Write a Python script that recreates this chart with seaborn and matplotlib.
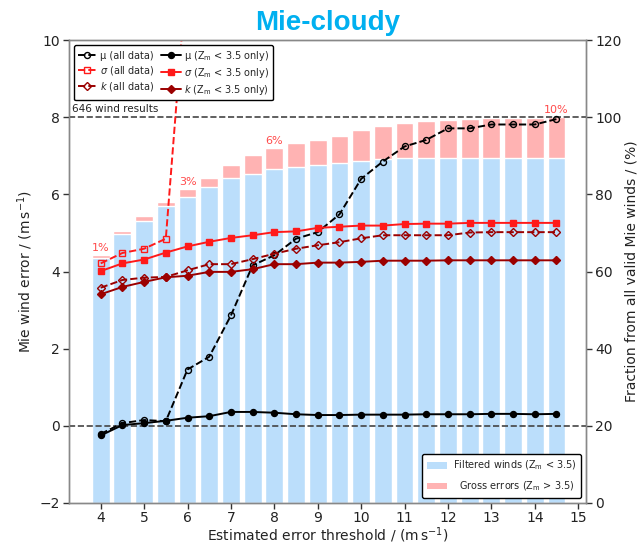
import numpy as np
import pandas as pd
import matplotlib
matplotlib.use("Agg")
import matplotlib.pyplot as plt
from matplotlib.patches import Patch
import seaborn as sns

# ---------------- data ----------------
thresholds = [4.0, 4.5, 5.0, 5.5, 6.0, 6.5, 7.0, 7.5, 8.0, 8.5, 9.0,
              9.5, 10.0, 10.5, 11.0, 11.5, 12.0, 12.5, 13.0, 13.5, 14.0, 14.5]

# fraction of all valid Mie winds (%)
frac_filtered = [63.5, 69.7, 73.2, 77.1, 79.2, 81.9, 84.3, 85.3, 86.6, 87.0, 87.6,
                 88.0, 88.6, 89.2, 89.3, 89.4, 89.5, 89.5, 89.5, 89.5, 89.5, 89.5]
frac_gross = [0.7, 0.9, 1.2, 1.0, 2.2, 2.3, 3.3, 4.9, 5.4, 6.2, 6.6,
              7.2, 8.1, 8.6, 9.3, 9.5, 9.7, 10.0, 10.2, 10.3, 10.4, 10.5]

# Mie wind error statistics (m/s)
mu_all = [-0.21, 0.07, 0.15, 0.12, 1.46, 1.79, 2.86, 4.16, 4.42, 4.85, 5.02,
          5.48, 6.40, 6.85, 7.24, 7.41, 7.71, 7.71, 7.81, 7.81, 7.81, 7.95]
mu_only = [-0.25, 0.02, 0.07, 0.13, 0.21, 0.25, 0.36, 0.36, 0.34, 0.30, 0.28,
           0.28, 0.29, 0.29, 0.29, 0.30, 0.30, 0.30, 0.31, 0.31, 0.30, 0.31]
sigma_all = [4.21, 4.48, 4.59, 4.85, 12.0] + [np.nan] * 17
sigma_only = [4.01, 4.21, 4.31, 4.49, 4.65, 4.77, 4.87, 4.94, 5.02, 5.04, 5.13,
              5.16, 5.19, 5.19, 5.23, 5.24, 5.24, 5.26, 5.26, 5.26, 5.26, 5.26]
k_all = [3.58, 3.78, 3.84, 3.86, 4.03, 4.19, 4.19, 4.32, 4.46, 4.59, 4.68,
         4.76, 4.86, 4.94, 4.94, 4.94, 4.94, 5.01, 5.02, 5.02, 5.02, 5.02]
k_only = [3.41, 3.60, 3.73, 3.85, 3.89, 3.99, 3.99, 4.06, 4.19, 4.19, 4.23,
          4.23, 4.25, 4.28, 4.28, 4.28, 4.29, 4.29, 4.29, 4.29, 4.29, 4.29]

pct_x = [4.0, 6.0, 8.0, 14.5]
pct_text = ["1%", "3%", "6%", "10%"]
n_results_text = "646 wind results"

BLUE = "#bbdefb"
PINK = "#ffb3b3"
RED = "#ff1a1a"
DARKRED = "#9b0000"
SPINE = "#888888"

sns.set_theme(style="ticks")
plt.rcParams["font.family"] = ["DejaVu Sans"]
plt.rcParams["axes.edgecolor"] = SPINE
plt.rcParams["xtick.color"] = "#333333"
plt.rcParams["ytick.color"] = "#333333"
plt.rcParams["xtick.labelcolor"] = "#222222"
plt.rcParams["ytick.labelcolor"] = "#222222"

fig = plt.figure(figsize=(6.39, 5.47), dpi=100)
ax = fig.add_axes([69 / 639, 1 - 503 / 547, (586 - 69) / 639, (503 - 40) / 547])
ax2 = ax.twinx()

# ---------------- bars (right axis) ----------------
df = pd.DataFrame({"threshold": thresholds, "filtered": frac_filtered, "gross": frac_gross})
df["total"] = df["filtered"] + df["gross"]
sns.barplot(data=df, x="threshold", y="total", native_scale=True, color=PINK,
            saturation=1, width=0.82, edgecolor="white", linewidth=1.0,
            errorbar=None, ax=ax2)
sns.barplot(data=df, x="threshold", y="filtered", native_scale=True, color=BLUE,
            saturation=1, width=0.82, edgecolor="white", linewidth=1.0,
            errorbar=None, ax=ax2)
ax2.set_ylim(0, 120)
ax2.set_yticks(range(0, 121, 20))
ax2.set_ylabel("Fraction from all valid Mie winds / (%)", fontsize=10,
               color="#222222", labelpad=2)
ax2.tick_params(axis="y", labelsize=10, length=4, width=1, pad=2.5)

for xp, t in zip(pct_x, pct_text):
    top = float(df.loc[df["threshold"] == xp, "total"].iloc[0])
    ax2.text(xp, top + 0.6, t, color="#ff4a4a", fontsize=8, ha="center", va="bottom")

ax2.legend(handles=[Patch(facecolor=BLUE, edgecolor="none", label="Filtered winds (Z$_\\mathrm{m}$ < 3.5)"),
                    Patch(facecolor=PINK, edgecolor="none", label="  Gross errors (Z$_\\mathrm{m}$ > 3.5)")],
           loc="lower right", fontsize=7, frameon=True, framealpha=1, edgecolor="black",
           fancybox=True, handlelength=2.0, labelspacing=0.75, borderpad=0.5,
           handletextpad=0.6)

# ---------------- lines (left axis) ----------------
ax.set_zorder(ax2.get_zorder() + 1)
ax.patch.set_visible(False)

def draw(values, color, ls, marker, mfc, ms, label):
    d = pd.DataFrame({"x": thresholds, "y": values}).dropna()
    sns.lineplot(data=d, x="x", y="y", color=color, linestyle=ls, marker=marker,
                 markersize=ms, markerfacecolor=mfc, markeredgecolor=color,
                 markeredgewidth=1.0, linewidth=1.4, errorbar=None, ax=ax,
                 label=label, legend=False)
    return ax.lines[-1]

h_mu_all = draw(mu_all, "black", "--", "o", "none", 4.3, "μ (all data)")
h_sig_all = draw(sigma_all, RED, "--", "s", "none", 4.3, "$\\sigma$ (all data)")
h_k_all = draw(k_all, DARKRED, "--", "D", "none", 4.3, "$k$ (all data)")
h_mu_only = draw(mu_only, "black", "-", "o", "black", 4.3, "μ (Z$_\\mathrm{m}$ < 3.5 only)")
h_sig_only = draw(sigma_only, RED, "-", "s", RED, 4.3, "$\\sigma$ (Z$_\\mathrm{m}$ < 3.5 only)")
h_k_only = draw(k_only, DARKRED, "-", "D", DARKRED, 4.3, "$k$ (Z$_\\mathrm{m}$ < 3.5 only)")

ax.axhline(0, color="#444444", ls="--", lw=1.2, zorder=1)
ax.axhline(8, color="#444444", ls="--", lw=1.2, zorder=1)
ax.text(3.33, 8.07, n_results_text, fontsize=7.5, color="#222222", ha="left", va="bottom")

ax.set_xlim(3.27, 15.18)
ax.set_xticks(range(4, 16))
ax.set_ylim(-2, 10)
ax.set_yticks(range(-2, 11, 2))
ax.set_xlabel("Estimated error threshold / (m$\\,$s$^{-1}$)", fontsize=10,
              color="#222222", labelpad=0)
ax.set_ylabel("Mie wind error / (m$\\,$s$^{-1}$)", fontsize=10, color="#222222",
              labelpad=3)
ax.tick_params(axis="both", labelsize=10, length=4, width=1, pad=2.5)
ax.tick_params(axis="x", pad=2)

leg = ax.legend(handles=[h_mu_all, h_sig_all, h_k_all, h_mu_only, h_sig_only, h_k_only],
                loc="upper left", ncol=2, fontsize=7, frameon=True, framealpha=1,
                edgecolor="black", fancybox=True, handlelength=2.0, handletextpad=0.3,
                columnspacing=0.7, labelspacing=0.3, borderpad=0.4)
leg.set_zorder(10)

for a in (ax, ax2):
    for s in a.spines.values():
        s.set_color(SPINE)
        s.set_linewidth(1.0)
        s.set_visible(True)

ax.set_title("Mie-cloudy", fontsize=20, fontweight="bold", color="#00b0f0",
             family=["Liberation Sans", "DejaVu Sans"], pad=7)

fig.savefig("out.png", dpi=100)
